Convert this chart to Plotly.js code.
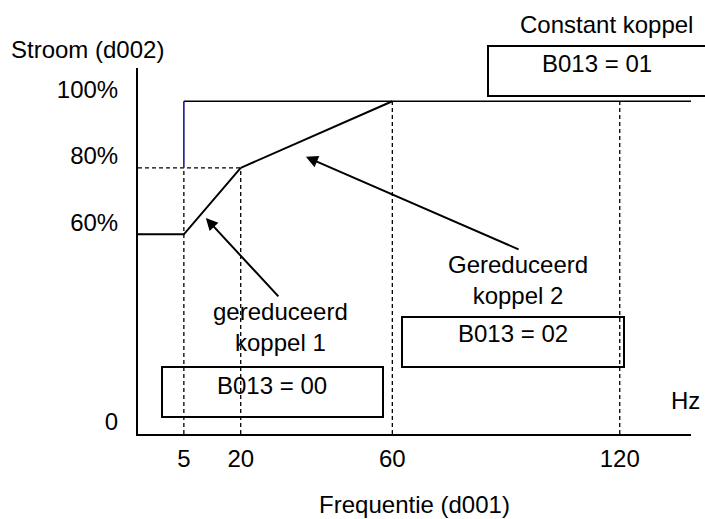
<!DOCTYPE html>
<html><head><meta charset="utf-8">
<script src="https://cdn.plot.ly/plotly-3.0.1.min.js"></script>
<style>html,body{margin:0;padding:0;background:#fff}</style>
</head><body><div id="chart" style="width:705px;height:519px"></div>
<script>
// ---- data ----
const freqTicks = [5, 20, 60, 120];
const freqTickText = ['5', '20', '60', '120'];
const currentTicks = [0, 60, 80, 100];
const currentTickText = ['0', '60%', '80%', '100%'];
const fMin = -7.1, fMax = 138.8, cMax = 110;

// B013 = 00 : gereduceerd koppel 1
const red1Freq = [fMin, 5, 20];
const red1Current = [60, 60, 80];
// B013 = 02 : gereduceerd koppel 2
const red2Freq = [20, 60];
const red2Current = [80, 100];
// B013 = 01 : constant koppel
const constFreq = [5, fMax];
const constCurrent = [100, 100];
const stepFreq = [5, 5];
const stepCurrent = [80, 100];
// reference (dashed) lines
const ref80Freq = [fMin, 20];
const ref80Current = [80, 80];
const guideFreq = [5, 20, 60, 120];
const guideTop = [80, 80, 100, 100];

// ---- layout helpers (pixel -> paper) ----
const L = 138, R = 691, T = 68, B = 434;
const px = x => (x - L) / (R - L);
const py = y => (B - y) / (B - T);

const gx = [], gy = [];
guideFreq.forEach((f, i) => { gx.push(f, f, null); gy.push(0, guideTop[i], null); });

const solid = {color: 'black', width: 2};
const dashed = {color: 'black', width: 1.3, dash: '4px,3px'};
const traces = [
  {x: gx, y: gy, mode: 'lines', line: dashed},
  {x: ref80Freq, y: ref80Current, mode: 'lines', line: dashed},
  {x: red1Freq, y: red1Current, mode: 'lines', line: solid},
  {x: red2Freq, y: red2Current, mode: 'lines', line: solid},
  {x: constFreq, y: constCurrent, mode: 'lines', line: {color: 'black', width: 1.6}},
  {x: stepFreq, y: stepCurrent, mode: 'lines', line: {color: '#1a1a99', width: 1.6}}
];
traces.forEach(t => { t.showlegend = false; t.hoverinfo = 'skip'; t.cliponaxis = false; });

const font = {family: '"Liberation Sans", Arial, sans-serif', size: 24, color: 'black'};
const txt = (text, x, y) => ({text, xref: 'paper', yref: 'paper', x: px(x), y: py(y),
  xanchor: 'center', yanchor: 'middle', showarrow: false, font});
const arrow = (tipF, tipC, tailF, tailC) => ({text: '', xref: 'x', yref: 'y', axref: 'x', ayref: 'y',
  x: tipF, y: tipC, ax: tailF, ay: tailC, showarrow: true, arrowhead: 2, arrowsize: 1.2,
  arrowwidth: 2, arrowcolor: 'black', standoff: 0, startstandoff: 0});

const box = (x0, y0, x1, y1) => ({type: 'rect', xref: 'paper', yref: 'paper',
  x0: px(x0), x1: px(x1), y0: py(y1), y1: py(y0), line: {color: 'black', width: 2}, fillcolor: 'rgba(0,0,0,0)'});

const layout = {
  width: 705, height: 519,
  margin: {l: L, r: 705 - R, t: T, b: 519 - B},
  paper_bgcolor: 'white', plot_bgcolor: 'white',
  font,
  xaxis: {range: [fMin, fMax], tickvals: freqTicks, ticktext: freqTickText,
    showline: true, linecolor: 'black', linewidth: 2, showgrid: false, zeroline: false,
    ticks: '', ticklabelstandoff: 2, tickfont: font,
    title: {text: 'Frequentie (d001)', font, standoff: 25}, automargin: false},
  yaxis: {range: [0, cMax], tickvals: currentTicks, ticktext: currentTickText,
    showline: true, linecolor: 'black', linewidth: 2, showgrid: false, zeroline: false,
    ticks: '', ticklabelstandoff: 13, ticklabelshift: -12, tickfont: font, automargin: false},
  shapes: [
    box(488, 46, 720, 96),
    box(162, 367, 383, 417),
    box(402, 317, 624, 367)
  ],
  annotations: [
    txt('Stroom (d002)', 87, 49),
    txt('Constant koppel', 606, 25),
    txt('B013 = 01', 597, 63),
    txt('B013 = 00', 272, 385),
    txt('B013 = 02', 513, 334),
    txt('gereduceerd<br>koppel 1', 280, 327),
    txt('Gereduceerd<br>koppel 2', 518, 280),
    txt('Hz', 685, 400),
    arrow(10.8, 64.9, 30.3, 40.9),
    arrow(37.2, 83.3, 93.7, 55.3)
  ]
};

Plotly.newPlot('chart', traces, layout, {staticPlot: true, displayModeBar: false});
</script></body></html>
